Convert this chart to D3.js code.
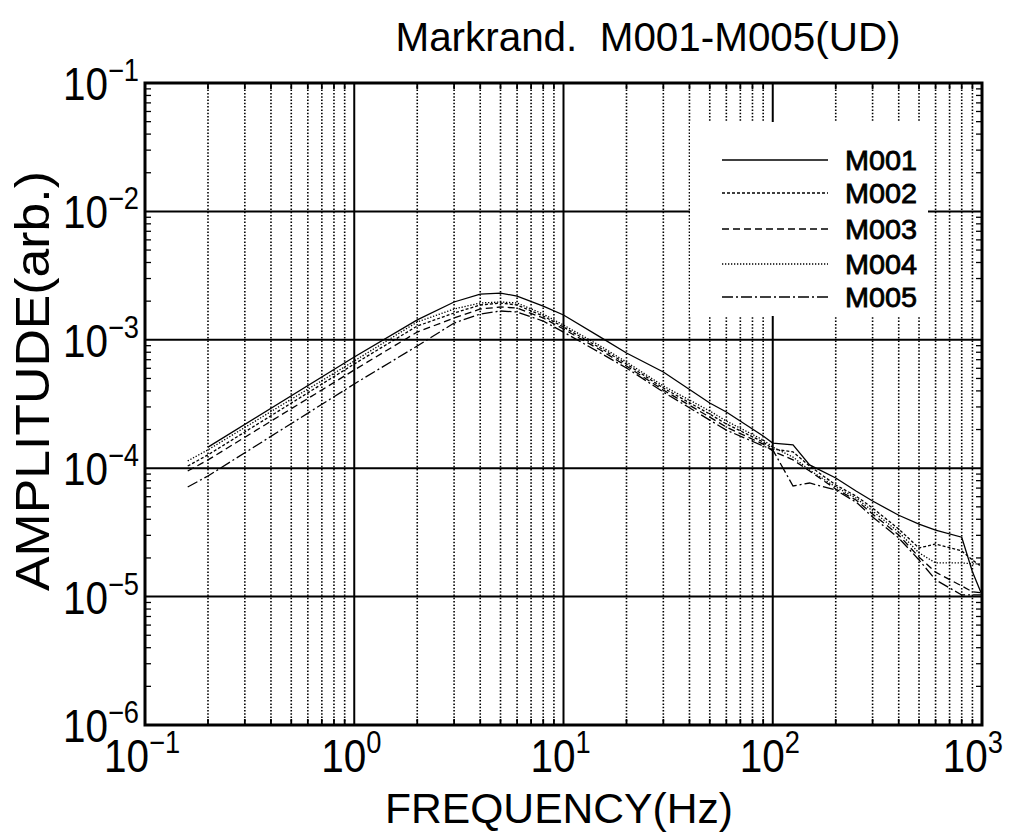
<!DOCTYPE html>
<html>
<head>
<meta charset="utf-8">
<script src="https://cdn.jsdelivr.net/npm/d3@7"></script>
<style>
  html, body { margin: 0; padding: 0; background: #fff; }
  svg { display: block; font-family: "Liberation Sans", Arial, sans-serif; }
</style>
</head>
<body>
<svg id="chart" width="1016" height="832"></svg>
<script>
// Frequency nodes (Hz) shared by every station
const freqs = [0.16, 0.2, 1, 2, 3, 4, 5, 6, 8, 10, 15, 20, 30, 50, 60, 90, 100, 125, 150, 200, 250, 300, 400, 500, 600, 800, 900, 1000];

// Spectral amplitudes (arb.) per station; null = no sample
const m001 = [null, 1.46e-4, 7.35e-4, 1.43e-3, 1.97e-3, 2.27e-3, 2.31e-3, 2.19e-3, 1.83e-3, 1.56e-3, 1.05e-3, 7.89e-4, 5.61e-4, 3.22e-4, 2.74e-4, 1.78e-4, 1.57e-4, 1.52e-4, 1.06e-4, 8.39e-5, 6.64e-5, 5.55e-5, 4.3e-5, 3.67e-5, 3.3e-5, 2.9e-5, 1.56e-5, 1.03e-5];
const m002 = [1.04e-4, 1.27e-4, 6.48e-4, 1.28e-3, 1.617e-3, 1.866e-3, 1.935e-3, 1.866e-3, 1.532e-3, 1.257e-3, 8.63e-4, 6.48e-4, 4.21e-4, 2.64e-4, 2.21e-4, 1.6e-4, 1.41e-4, 1.34e-4, 1.04e-4, 7.4e-5, 6.07e-5, 4.9e-5, 3.36e-5, 2.39e-5, 2.57e-5, 2.27e-5, 1.93e-5, 1.7e-5];
const m003 = [9.51e-5, 1.16e-4, 5.82e-4, 1.149e-3, 1.478e-3, 1.737e-3, 1.8e-3, 1.768e-3, 1.478e-3, 1.213e-3, 8.33e-4, 6.25e-4, 4.06e-4, 2.5e-4, 2.09e-4, 1.54e-4, 1.36e-4, 1.16e-4, 9.51e-5, 6.89e-5, 5.65e-5, 4.4e-5, 3.02e-5, 2.03e-5, 1.55e-5, 1.21e-5, 1.09e-5, 1.07e-5];
const m004 = [1.14e-4, 1.39e-4, 6.84e-4, 1.376e-3, 1.737e-3, 1.935e-3, 1.97e-3, 1.935e-3, 1.588e-3, 1.303e-3, 8.95e-4, 6.71e-4, 4.37e-4, 2.79e-4, 2.33e-4, 1.66e-4, 1.46e-4, 1.22e-4, 9.68e-5, 7.14e-5, 5.86e-5, 4.64e-5, 3.18e-5, 2.19e-5, 1.83e-5, 1.83e-5, 1.8e-5, 1.8e-5];
const m005 = [7.14e-5, 8.7e-5, 4.53e-4, 8.95e-4, 1.351e-3, 1.588e-3, 1.676e-3, 1.646e-3, 1.4e-3, 1.149e-3, 7.89e-4, 6.03e-4, 3.92e-4, 2.37e-4, 1.98e-4, 1.49e-4, 1.39e-4, 7.27e-5, 7.67e-5, 6.76e-5, 5.45e-5, 4.17e-5, 2.86e-5, 1.93e-5, 1.35e-5, 1.03e-5, 1.03e-5, 1.03e-5];

const seriesNames = ["M001", "M002", "M003", "M004", "M005"];
const seriesValues = [m001, m002, m003, m004, m005];

// Axis decades (exponents) for tick labels
const xExponents = [-1, 0, 1, 2, 3];
const yExponents = [-6, -5, -4, -3, -2, -1];

const titleText = "Markrand.  M001-M005(UD)";
const xTitle = "FREQUENCY(Hz)";
const yTitle = "AMPLITUDE(arb.)";

// ---- layout & style ----
const plot = { left: 145, right: 982, top: 83, bottom: 725 };
const dashes = [null, "3,2", "7,4", "1.3,1.7", "11,3,2,3"];

const svg = d3.select("#chart");
const x = d3.scaleLog().domain([0.1, 1000]).range([plot.left, plot.right]);
const y = d3.scaleLog().domain([1e-6, 1e-1]).range([plot.bottom, plot.top]);

const grid = svg.append("g");

// minor vertical grid (dotted) at 2..9 of each decade
const minorX = [];
for (let e = -1; e < 3; e++) for (let k = 2; k <= 9; k++) minorX.push(k * Math.pow(10, e));
grid.selectAll("line.minx").data(minorX).join("line")
  .attr("x1", d => x(d)).attr("x2", d => x(d))
  .attr("y1", plot.top).attr("y2", plot.bottom)
  .attr("stroke", "#000").attr("stroke-width", 1.6)
  .attr("stroke-dasharray", "1.5,1.8");

// major vertical grid
grid.selectAll("line.majx").data([1, 10, 100]).join("line")
  .attr("x1", d => x(d)).attr("x2", d => x(d))
  .attr("y1", plot.top).attr("y2", plot.bottom)
  .attr("stroke", "#000").attr("stroke-width", 2);

// major horizontal grid
grid.selectAll("line.majy").data([1e-5, 1e-4, 1e-3, 1e-2]).join("line")
  .attr("x1", plot.left).attr("x2", plot.right)
  .attr("y1", d => y(d)).attr("y2", d => y(d))
  .attr("stroke", "#000").attr("stroke-width", 2);

// minor tick marks on all four sides, pointing inward
const minorY = [];
for (let e = -6; e < -1; e++) for (let k = 2; k <= 9; k++) minorY.push(k * Math.pow(10, e));
const tl = 6;
grid.selectAll("line.tyl").data(minorY).join("line")
  .attr("x1", plot.left).attr("x2", plot.left + tl)
  .attr("y1", d => y(d)).attr("y2", d => y(d))
  .attr("stroke", "#000").attr("stroke-width", 1.3);
grid.selectAll("line.tyr").data(minorY).join("line")
  .attr("x1", plot.right).attr("x2", plot.right - tl)
  .attr("y1", d => y(d)).attr("y2", d => y(d))
  .attr("stroke", "#000").attr("stroke-width", 1.3);
grid.selectAll("line.txb").data(minorX).join("line")
  .attr("x1", d => x(d)).attr("x2", d => x(d))
  .attr("y1", plot.bottom).attr("y2", plot.bottom - tl)
  .attr("stroke", "#000").attr("stroke-width", 1.8);
grid.selectAll("line.txt").data(minorX).join("line")
  .attr("x1", d => x(d)).attr("x2", d => x(d))
  .attr("y1", plot.top).attr("y2", plot.top + tl)
  .attr("stroke", "#000").attr("stroke-width", 1.8);

// legend panel blanks the grid behind it
const legend = svg.append("g");
legend.append("rect")
  .attr("x", 690).attr("y", 122).attr("width", 238).attr("height", 194)
  .attr("fill", "#fff");

// spectra
const line = d3.line()
  .x(d => x(d.f))
  .y(d => y(d.a));

const curves = svg.append("g");
seriesValues.forEach((vals, i) => {
  const pts = freqs.map((f, j) => ({ f, a: vals[j] })).filter(d => d.a != null);
  curves.append("path")
    .datum(pts)
    .attr("d", line)
    .attr("fill", "none")
    .attr("stroke", "#000")
    .attr("stroke-width", 1.3)
    .attr("stroke-dasharray", dashes[i]);
});

// legend entries
const legY = [160, 193, 229, 264, 297];
seriesNames.forEach((name, i) => {
  legend.append("line")
    .attr("x1", 722).attr("x2", 828)
    .attr("y1", legY[i]).attr("y2", legY[i])
    .attr("stroke", "#000").attr("stroke-width", 1.4)
    .attr("stroke-dasharray", dashes[i]);
  legend.append("text")
    .attr("x", 845).attr("y", legY[i] + 10)
    .attr("font-size", 28)
    .attr("stroke", "#000").attr("stroke-width", 0.8)
    .attr("textLength", 72).attr("lengthAdjust", "spacingAndGlyphs")
    .text(name);
});

// plot frame
svg.append("rect")
  .attr("x", plot.left).attr("y", plot.top)
  .attr("width", plot.right - plot.left).attr("height", plot.bottom - plot.top)
  .attr("fill", "none").attr("stroke", "#000").attr("stroke-width", 3);

// power-of-ten tick labels, drawn slightly condensed
function powLabel(px, py, anchor, e) {
  const g = svg.append("g")
    .attr("transform", `translate(${px},${py}) scale(0.88,1)`);
  const t = g.append("text")
    .attr("text-anchor", anchor)
    .attr("font-size", 46);
  t.append("tspan").text("10");
  t.append("tspan")
    .attr("font-size", 31)
    .attr("dy", -19)
    .text(e < 0 ? "\u2212" + Math.abs(e) : String(e));
}

yExponents.forEach(e => {
  powLabel(139, y(Math.pow(10, e)) + 17, "end", e);
});

xExponents.forEach((e, i) => {
  const px = x(Math.pow(10, e));
  const last = i === xExponents.length - 1;
  powLabel(last ? 1003 : px - 3, plot.bottom + 47, last ? "end" : "middle", e);
});

// titles
svg.append("text")
  .attr("x", 648).attr("y", 51)
  .attr("text-anchor", "middle")
  .attr("font-size", 40)
  .attr("textLength", 505).attr("lengthAdjust", "spacingAndGlyphs")
  .style("white-space", "pre")
  .text(titleText);

svg.append("text")
  .attr("x", 559).attr("y", 823)
  .attr("text-anchor", "middle")
  .attr("font-size", 42)
  .attr("textLength", 348).attr("lengthAdjust", "spacingAndGlyphs")
  .text(xTitle);

svg.append("text")
  .attr("transform", "translate(49,381) rotate(-90)")
  .attr("text-anchor", "middle")
  .attr("font-size", 48)
  .attr("textLength", 420).attr("lengthAdjust", "spacingAndGlyphs")
  .text(yTitle);
</script>
</body>
</html>
